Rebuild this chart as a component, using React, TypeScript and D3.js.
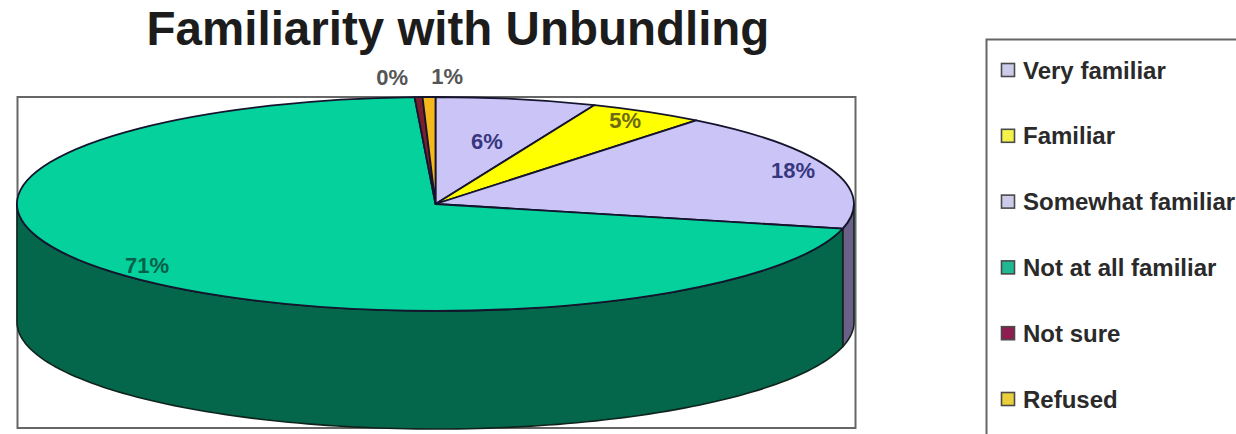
import React from "react";
import * as d3 from "d3";

// Survey responses, in percent, in drawing order clockwise from twelve o'clock.
const categories = ["Very familiar", "Familiar", "Somewhat familiar", "Not at all familiar", "Not sure", "Refused"];
const shares = [6.2, 4.5, 18, 70.5, 0.3, 0.5];
const topColors = ["#CBC5F7", "#FFFF00", "#CBC5F7", "#04D19B", "#7A1F2E", "#F5B81C"];
const wallColors = ["#6A6280", "#808000", "#6B6088", "#04664A", "#3D1017", "#7A5C0E"];
const swatchColors = ["#CDCBEA", "#F2F24A", "#CDCBEA", "#1FB893", "#8E1D52", "#E9CF3A"];
const labelColors = ["#37377F", "#6E6A10", "#37377F", "#04604A", "#555555", "#555555"];

const W = 1236;
const H = 434;
const cx = 435.5;
const cy = 204;
const rx = 418.5;
const ry = 107;
const depth = 118;
const labelRing = 0.9;
const labelNudge: [number, number][] = [[-21.5, 31.5], [-1, -1], [1.5, -2.5], [1, -1], [-28, -31], [17.5, -32]];
const legendRows = d3.scaleLinear().domain([0, 5]).range([70, 399]);
const FONT = "'Liberation Sans', Arial, sans-serif";

const px = (a: number) => cx + rx * Math.sin(a);
const py = (a: number) => cy - ry * Math.cos(a);

export default function App() {
  const arcs = d3.pie<number>().sort(null).value((d) => d)(shares);
  const unitArc = d3.arc<d3.PieArcDatum<number>>().innerRadius(0).outerRadius(1);

  // Rim of the disc: only the part of each slice on the near half shows.
  const wall = d3
    .area<number>()
    .x((a) => px(a))
    .y0((a) => py(a))
    .y1((a) => py(a) + depth);
  const walls = arcs.map((s) => {
    const from = Math.max(s.startAngle, Math.PI / 2);
    const to = Math.min(s.endAngle, (3 * Math.PI) / 2);
    if (to <= from) return null;
    const steps = d3.range(0, 121).map((i) => from + ((to - from) * i) / 120);
    return wall(steps);
  });

  return (
    <svg width={W} height={H} viewBox={`0 0 ${W} ${H}`} style={{ position: "absolute", left: 0, top: 0, display: "block", background: "#fff" }}>
      <text x={458} y={45} textAnchor="middle" fontFamily={FONT} fontWeight="bold" fontSize={47.5} fill="#1c1c1c">
        Familiarity with Unbundling
      </text>

      <rect x={17.5} y={97} width={838} height={331} fill="#fff" stroke="#666" strokeWidth={2} />

      {walls.map((d, i) =>
        d ? <path key={i} d={d} fill={wallColors[i]} stroke="#10241c" strokeWidth={1.6} strokeLinejoin="round" /> : null
      )}

      <g transform={`translate(${cx},${cy}) scale(${rx},${ry})`}>
        {arcs.map((s, i) => (
          <path
            key={i}
            d={unitArc(s) ?? ""}
            fill={topColors[i]}
            stroke="#14142e"
            strokeWidth={1.8}
            strokeLinejoin="round"
            vectorEffect="non-scaling-stroke"
          />
        ))}
      </g>

      {arcs.map((s, i) => {
        const mid = (s.startAngle + s.endAngle) / 2;
        const x = cx + rx * labelRing * Math.sin(mid) + labelNudge[i][0];
        const y = cy - ry * labelRing * Math.cos(mid) + labelNudge[i][1];
        return (
          <text key={i} x={x} y={y} dy="0.36em" textAnchor="middle" fontFamily={FONT} fontWeight="bold" fontSize={22} fill={labelColors[i]}>
            {`${Math.round(shares[i])}%`}
          </text>
        );
      })}

      <path d={`M${W} 39.5H986.5V${H}`} fill="none" stroke="#666" strokeWidth={2} />
      {categories.map((c, i) => {
        const y = legendRows(i);
        return (
          <g key={c}>
            <rect x={1001.5} y={y - 6.5} width={13} height={13} fill={swatchColors[i]} stroke="#4a4a4a" strokeWidth={1.6} />
            <text x={1023} y={y} dy="0.36em" fontFamily={FONT} fontWeight="bold" fontSize={24} fill="#2a2a2a">
              {c}
            </text>
          </g>
        );
      })}
    </svg>
  );
}
